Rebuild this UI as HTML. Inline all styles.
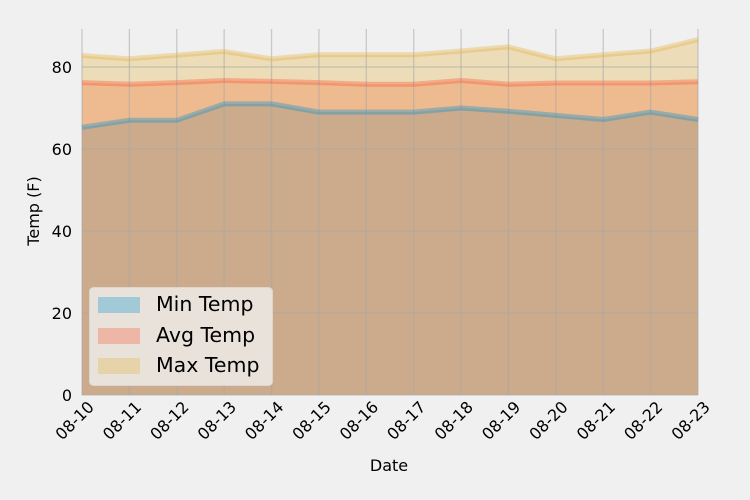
<!DOCTYPE html>
<html><head><meta charset="utf-8"><style>
body{margin:0;background:#f0f0f0;}
svg{display:block;font-family:"DejaVu Sans","Liberation Sans",sans-serif;}
</style></head><body>
<svg id="chart" width="750" height="500" viewBox="0 0 750 500">
<rect width="750" height="500" fill="#f0f0f0"/>
<g id="areas"></g><g id="grid"></g><g id="lines"></g><g id="xt"></g><g id="yt"></g>
<text x="389" y="471" font-size="16" text-anchor="middle" fill="#000">Date</text>
<text transform="translate(39,211) rotate(-90)" font-size="16" text-anchor="middle" fill="#000">Temp (F)</text>
<g>
<rect x="89.5" y="287.5" width="183" height="98" rx="4" fill="#e9e2da" stroke="#dcd6cf"/>
<rect x="98" y="297" width="42" height="16" fill="#008fd5" fill-opacity="0.3"/>
<text x="156" y="311" font-size="20.5">Min Temp</text>
<rect x="98" y="328" width="42" height="16" fill="#fc4f30" fill-opacity="0.3"/>
<text x="156" y="342" font-size="20.5">Avg Temp</text>
<rect x="98" y="358" width="42" height="16" fill="#e5ae38" fill-opacity="0.3"/>
<text x="156" y="372" font-size="20.5">Max Temp</text>
</g>
</svg>
<script>
const dates=["08-10","08-11","08-12","08-13","08-14","08-15","08-16","08-17","08-18","08-19","08-20","08-21","08-22","08-23"];
const minTemp=[65.3,67,67,71,71,69,69,69,70,69.2,68.2,67.2,69,67.2];
const avgTemp=[76.2,75.8,76.2,76.7,76.5,76.2,75.8,75.8,76.7,75.8,76.1,76.1,76.1,76.4];
const maxTemp=[82.8,82,82.9,83.8,82,83,83,83,83.9,84.9,82,83,83.9,86.7];
const yTicks=[0,20,40,60,80];
const NS="http://www.w3.org/2000/svg";
const X0=82,X1=698,Y0=395,YTOP=29;
const xs=i=>X0+(X1-X0)*i/(dates.length-1);
const ys=v=>Y0-v*(Y0-67)/80;
function mk(t,a,p){const e=document.createElementNS(NS,t);for(const k in a)e.setAttribute(k,a[k]);document.getElementById(p).appendChild(e);return e;}
[[minTemp,"#008fd5","min"],[avgTemp,"#fc4f30","avg"],[maxTemp,"#e5ae38","max"]].forEach(s=>{
  const pts=s[0].map((v,i)=>xs(i)+","+ys(v)).join(" ");
  const a=mk("polygon",{points:X0+","+Y0+" "+pts+" "+X1+","+Y0,fill:s[1],"fill-opacity":0.3},"areas");
  
  
  const l=mk("polyline",{points:pts,fill:"none",stroke:s[1],"stroke-opacity":0.35,"stroke-width":5,"stroke-linejoin":"round"},"lines");
  
  
});
dates.forEach((d,i)=>{
  const g=mk("line",{x1:xs(i),x2:xs(i),y1:YTOP,y2:Y0,stroke:"#a8a8a8","stroke-opacity":0.55,"stroke-width":1.3},"grid");
  
  
  const t=mk("text",{transform:`translate(${xs(i)+13},${408}) rotate(-45)`,"font-size":16,"text-anchor":"end",fill:"#000"},"xt");
  t.textContent=d;
  
  
});
yTicks.forEach(v=>{
  const g=mk("line",{x1:X0,x2:X1,y1:ys(v),y2:ys(v),stroke:"#a8a8a8","stroke-opacity":0.55,"stroke-width":1.3},"grid");
  
  
  const t=mk("text",{x:72,y:ys(v)+6,"font-size":16,"text-anchor":"end",fill:"#000"},"yt");
  t.textContent=v;
  
  
});
</script>
</body></html>
